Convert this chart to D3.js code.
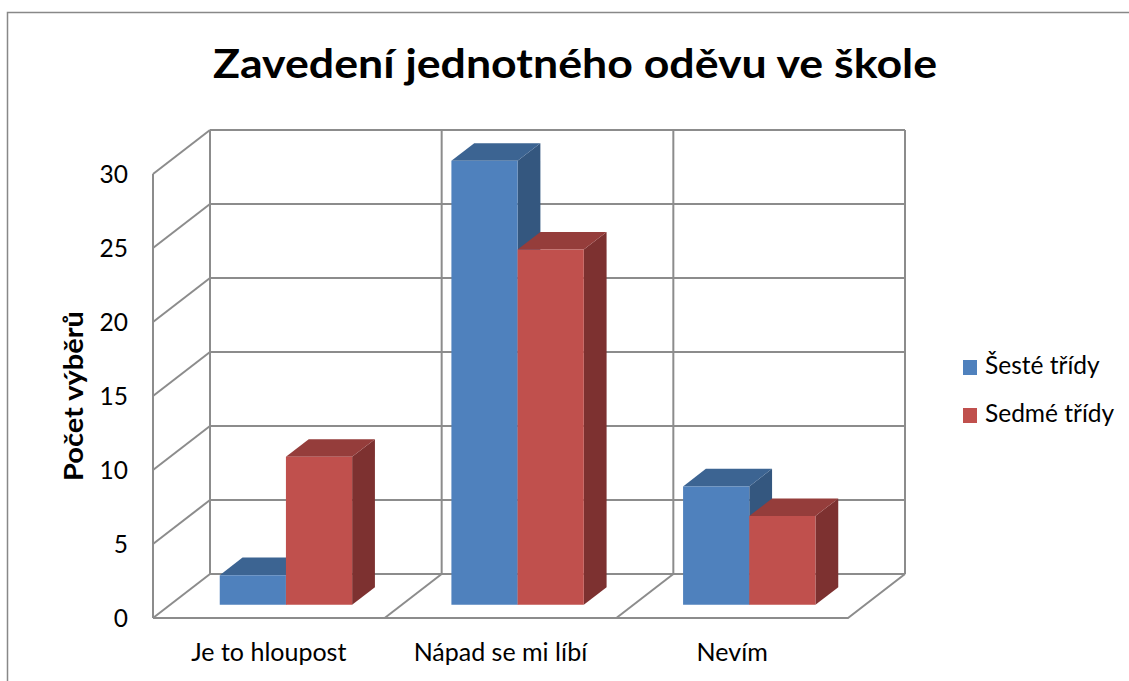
<!DOCTYPE html>
<html>
<head>
<meta charset="utf-8">
<script src="https://cdnjs.cloudflare.com/ajax/libs/d3/7.8.5/d3.min.js"></script>
<style>
  body { margin: 0; background: #fff; }
  svg { display: block; font-family: Lato, "Open Sans", sans-serif; }
</style>
</head>
<body>
<div id="chart"></div>
<script>
var width = 1129,
    height = 681;

// data
var categories = ["Je to hloupost", "Nápad se mi líbí", "Nevím"];
var series = ["Šesté třídy", "Sedmé třídy"];
var sesteValues = [2, 30, 8];
var sedmeValues = [10, 24, 6];
var yTicks = [0, 5, 10, 15, 20, 25, 30];
var title = "Zavedení jednotného oděvu ve škole";
var yTitle = "Počet výběrů";

var colors = {
  front: ["#4f81bd", "#c0504d"],
  top: ["#3c6492", "#953d3b"],
  side: ["#34577f", "#7d3130"]
};

// 3d box geometry
var ox = 153, oy = 618,       // front-bottom-left corner
    floorW = 695,
    depthX = 57, depthY = -44,
    barD0 = 0.3, barD1 = 0.7;

var y = d3.scaleLinear().domain([0, 30]).range([0, 444]);
var x = d3.scaleBand().domain(categories).range([0, floorW]);
var xs = d3.scaleBand().domain(series).range([0, x.bandwidth()])
  .paddingInner(0).paddingOuter(0.75);

function P(u, v, d) {
  return [ox + u + d * depthX, oy - y(v) + d * depthY];
}
var line = d3.line();

var svg = d3.select('#chart').append('svg')
  .attr('width', width)
  .attr('height', height);

// outer chart frame
svg.append('rect')
  .attr('x', 7.5).attr('y', 12.5)
  .attr('width', 1300).attr('height', 900)
  .attr('fill', 'none')
  .attr('stroke', '#888')
  .attr('stroke-width', 1.5);

var grid = svg.append('g')
  .attr('fill', 'none')
  .attr('stroke', '#8c8c8c')
  .attr('stroke-width', 2);

// back wall gridlines + side wall lines
yTicks.forEach(function(v) {
  grid.append('path').attr('d', line([P(0, v, 1), P(floorW, v, 1)]));
  grid.append('path').attr('d', line([P(0, v, 0), P(0, v, 1)]));
});
// vertical lines on back wall
var bounds = categories.map(function(c) { return x(c); }).concat([floorW]);
bounds.forEach(function(u) {
  grid.append('path').attr('d', line([P(u, 0, 1), P(u, 30, 1)]));
});
// front left edge
grid.append('path').attr('d', line([P(0, 0, 0), P(0, 30, 0)]));
// floor
grid.append('path').attr('d', line([P(0, 0, 0), P(floorW, 0, 0), P(floorW, 0, 1)]));
bounds.slice(1, -1).forEach(function(u) {
  grid.append('path').attr('d', line([P(u, 0, 0), P(u, 0, 1)]));
});

// bars
var bars = svg.append('g');
categories.forEach(function(c, i) {
  [sesteValues, sedmeValues].forEach(function(vals, s) {
    var v = vals[i];
    var u0 = x(c) + xs(series[s]),
        u1 = u0 + xs.bandwidth();
    bars.append('path')
      .attr('d', line([P(u1, 0, barD0), P(u1, 0, barD1), P(u1, v, barD1), P(u1, v, barD0)]) + 'Z')
      .attr('fill', colors.side[s]);
    bars.append('path')
      .attr('d', line([P(u0, v, barD0), P(u1, v, barD0), P(u1, v, barD1), P(u0, v, barD1)]) + 'Z')
      .attr('fill', colors.top[s]);
    bars.append('path')
      .attr('d', line([P(u0, 0, barD0), P(u1, 0, barD0), P(u1, v, barD0), P(u0, v, barD0)]) + 'Z')
      .attr('fill', colors.front[s]);
  });
});

// y tick labels
svg.append('g').selectAll('text')
  .data(yTicks)
  .join('text')
  .attr('x', 128)
  .attr('y', function(d) { return P(0, d, 0)[1]; })
  .attr('dy', '0.36em')
  .attr('text-anchor', 'end')
  .attr('font-size', 24.5)
  .attr('fill', '#000')
  .text(function(d) { return d; });

// category labels
svg.append('g').selectAll('text')
  .data(categories)
  .join('text')
  .attr('x', function(d) { return ox + x(d) + x.bandwidth() / 2; })
  .attr('y', 661)
  .attr('text-anchor', 'middle')
  .attr('font-size', 25)
  .attr('fill', '#000')
  .text(function(d) { return d; });

// title
svg.append('text')
  .attr('x', 575)
  .attr('y', 78)
  .attr('text-anchor', 'middle')
  .attr('font-size', 41)
  .attr('font-weight', 'bold')
  .attr('textLength', 724)
  .attr('lengthAdjust', 'spacingAndGlyphs')
  .text(title);

// y axis title
svg.append('text')
  .attr('transform', 'translate(83,396) rotate(-90)')
  .attr('text-anchor', 'middle')
  .attr('font-size', 26)
  .attr('font-weight', 'bold')
  .attr('textLength', 170)
  .attr('lengthAdjust', 'spacingAndGlyphs')
  .text(yTitle);

// legend
var legend = svg.append('g').selectAll('g')
  .data(series)
  .join('g')
  .attr('transform', function(d, i) { return 'translate(963,' + (360 + i * 48) + ')'; });
legend.append('rect')
  .attr('width', 14).attr('height', 15)
  .attr('fill', function(d, i) { return colors.front[i]; });
legend.append('text')
  .attr('x', 22)
  .attr('y', 14)
  .attr('font-size', 24.5)
  .text(function(d) { return d; });
</script>
</body>
</html>
